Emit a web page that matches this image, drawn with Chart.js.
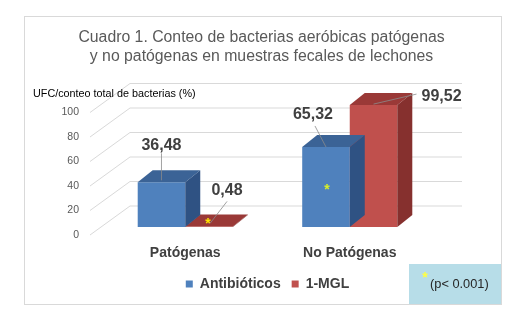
<!DOCTYPE html>
<html>
<head>
<meta charset="utf-8">
<script src="https://cdn.jsdelivr.net/npm/chart.js@4"></script>
<style>
  html, body { margin: 0; padding: 0; background: #fff; }
</style>
</head>
<body>
<canvas id="chart" width="528" height="323"></canvas>
<script>
const categories = ["Patógenas", "No Patógenas"];
const seriesNames = ["Antibióticos", "1-MGL"];
const antibioticos = [36.48, 65.32];
const mgl = [0.48, 99.52];
const titleLines = ["Cuadro 1. Conteo de bacterias aeróbicas patógenas", "y no patógenas en muestras fecales de lechones"];
const yAxisTitle = "UFC/conteo total de bacterias (%)";
const pNote = "(p< 0.001)";

const FONT = '"Liberation Sans", Arial, sans-serif';
Chart.defaults.font.family = FONT;

// colores de las caras (frente, arriba, lado)
const faces = [
  { front: "#4F81BD", top: "#3B6396", side: "#2F5283" },
  { front: "#C0504D", top: "#9A3937", side: "#86302E" }
];
const depth = { x: 15, y: -12 };     // profundidad de la barra
const wall = { x: 40, y: -29 };      // profundidad del piso/pared

// posiciones de etiquetas relativas al tope de cada barra: [texto, inicio guia, fin guia]
const labelPos = [
  [ { t: [0, -37], a: [0, -29], b: [0, -2] },  { t: [-13, -32], a: [-11, -21], b: [0, 0] } ],
  [ { t: [18, -36], a: [18, -25], b: [1, -3] }, { t: [68, -8], a: [43, -11], b: [0, -1] } ]
];

function poly(ctx, pts, color) {
  ctx.beginPath();
  ctx.moveTo(pts[0][0], pts[0][1]);
  for (let i = 1; i < pts.length; i++) ctx.lineTo(pts[i][0], pts[i][1]);
  ctx.closePath();
  ctx.fillStyle = color;
  ctx.fill();
}

function star(ctx, x, y, color, size) {
  ctx.save();
  ctx.fillStyle = color;
  ctx.font = "bold " + size + "px " + FONT;
  ctx.textAlign = "center";
  ctx.textBaseline = "middle";
  ctx.fillText("*", x, y);
  ctx.restore();
}

const chart3d = {
  id: "chart3d",
  beforeDraw(chart) {
    const ctx = chart.ctx;
    ctx.save();
    ctx.fillStyle = "#fff";
    ctx.fillRect(0, 0, chart.width, chart.height);
    ctx.strokeStyle = "#D9D9D9";
    ctx.lineWidth = 1;
    ctx.strokeRect(24.5, 16.5, 477, 288);
    // titulo
    ctx.fillStyle = "#595959";
    ctx.font = "15.8px " + FONT;
    ctx.textAlign = "center";
    ctx.textBaseline = "alphabetic";
    ctx.fillText(titleLines[0], 261.5, 41.7);
    ctx.fillText(titleLines[1], 261.5, 61.2);
    ctx.restore();
  },
  beforeDatasetsDraw(chart) {
    const ctx = chart.ctx, a = chart.chartArea, y = chart.scales.y;
    ctx.save();
    ctx.strokeStyle = "#D9D9D9";
    ctx.lineWidth = 1;
    ctx.fillStyle = "#595959";
    ctx.font = "10.5px " + FONT;
    ctx.textAlign = "right";
    ctx.textBaseline = "middle";
    y.ticks.forEach(t => {
      const py = y.getPixelForValue(t.value) + 8;
      const fx = a.left - 13;
      ctx.beginPath();
      ctx.moveTo(fx, py);
      ctx.lineTo(fx + wall.x, py + wall.y);
      ctx.lineTo(a.right + 30, py + wall.y);
      ctx.stroke();
      ctx.fillText(t.label, a.left - 24, py);
    });
    ctx.fillStyle = "#000";
    ctx.font = "10.8px " + FONT;
    ctx.textAlign = "left";
    ctx.fillText(yAxisTitle, 33, 94);
    ctx.restore();
  },
  afterDatasetDraw(chart, args) {
    const ctx = chart.ctx, f = faces[args.index];
    ctx.save();
    args.meta.data.forEach(el => {
      const p = el.getProps(["x", "y", "base", "width"], true);
      const l = p.x - p.width / 2, r = p.x + p.width / 2;
      poly(ctx, [[l, p.y], [r, p.y], [r + depth.x, p.y + depth.y], [l + depth.x, p.y + depth.y]], f.top);
      poly(ctx, [[r, p.y], [r + depth.x, p.y + depth.y], [r + depth.x, p.base + depth.y], [r, p.base]], f.side);
    });
    ctx.restore();
  },
  afterDraw(chart) {
    const ctx = chart.ctx;
    ctx.save();
    chart.data.datasets.forEach((ds, i) => {
      chart.getDatasetMeta(i).data.forEach((el, j) => {
        const p = el.getProps(["x", "y"], true);
        const L = labelPos[i][j];
        ctx.strokeStyle = "#8C8C8C";
        ctx.lineWidth = 0.8;
        ctx.beginPath();
        ctx.moveTo(p.x + L.a[0], p.y + L.a[1]);
        ctx.lineTo(p.x + L.b[0], p.y + L.b[1]);
        ctx.stroke();
        ctx.fillStyle = "#404040";
        ctx.font = "bold 16px " + FONT;
        ctx.textAlign = "center";
        ctx.textBaseline = "middle";
        ctx.fillText(ds.data[j].toFixed(2).replace(".", ","), p.x + L.t[0], p.y + L.t[1]);
      });
    });
    // marcas de significancia
    const m1 = chart.getDatasetMeta(1).data[0].getProps(["x", "y"], true);
    star(ctx, m1.x - 1, m1.y - 2, "#FFE600", 14);
    const m0 = chart.getDatasetMeta(0).data[1].getProps(["x", "y"], true);
    star(ctx, m0.x + 1, m0.y + 43, "#D8F028", 14);
    // caja de p
    ctx.fillStyle = "#B7DDE8";
    ctx.fillRect(409, 264, 92, 40);
    star(ctx, 425, 278, "#FFFF40", 14);
    ctx.fillStyle = "#262626";
    ctx.font = "12.8px " + FONT;
    ctx.textAlign = "left";
    ctx.textBaseline = "middle";
    ctx.fillText(pNote, 430, 284);
    ctx.restore();
  }
};

new Chart(document.getElementById("chart"), {
  type: "bar",
  data: {
    labels: categories,
    datasets: [
      { label: seriesNames[0], data: antibioticos, backgroundColor: faces[0].front, borderWidth: 0 },
      { label: seriesNames[1], data: mgl, backgroundColor: faces[1].front, borderWidth: 0 }
    ]
  },
  options: {
    responsive: false,
    animation: false,
    categoryPercentage: 0.578,
    barPercentage: 1.0,
    layout: { padding: { left: 103, right: 96, top: 104.5, bottom: 22 } },
    plugins: {
      title: { display: false },
      legend: {
        position: "bottom",
        labels: {
          boxWidth: 7,
          boxHeight: 7,
          padding: 11,
          color: "#404040",
          font: { size: 14, weight: "bold" }
        }
      },
      tooltip: { enabled: false }
    },
    scales: {
      x: {
        afterFit(scale) { scale.height = 39; },
        grid: { display: false, drawTicks: false },
        border: { display: false },
        ticks: { color: "#404040", padding: 17.6, font: { size: 14, weight: "bold" } }
      },
      y: {
        display: false,
        min: 0,
        max: 100,
        ticks: { stepSize: 20 }
      }
    }
  },
  plugins: [chart3d]
});
</script>
</body>
</html>
